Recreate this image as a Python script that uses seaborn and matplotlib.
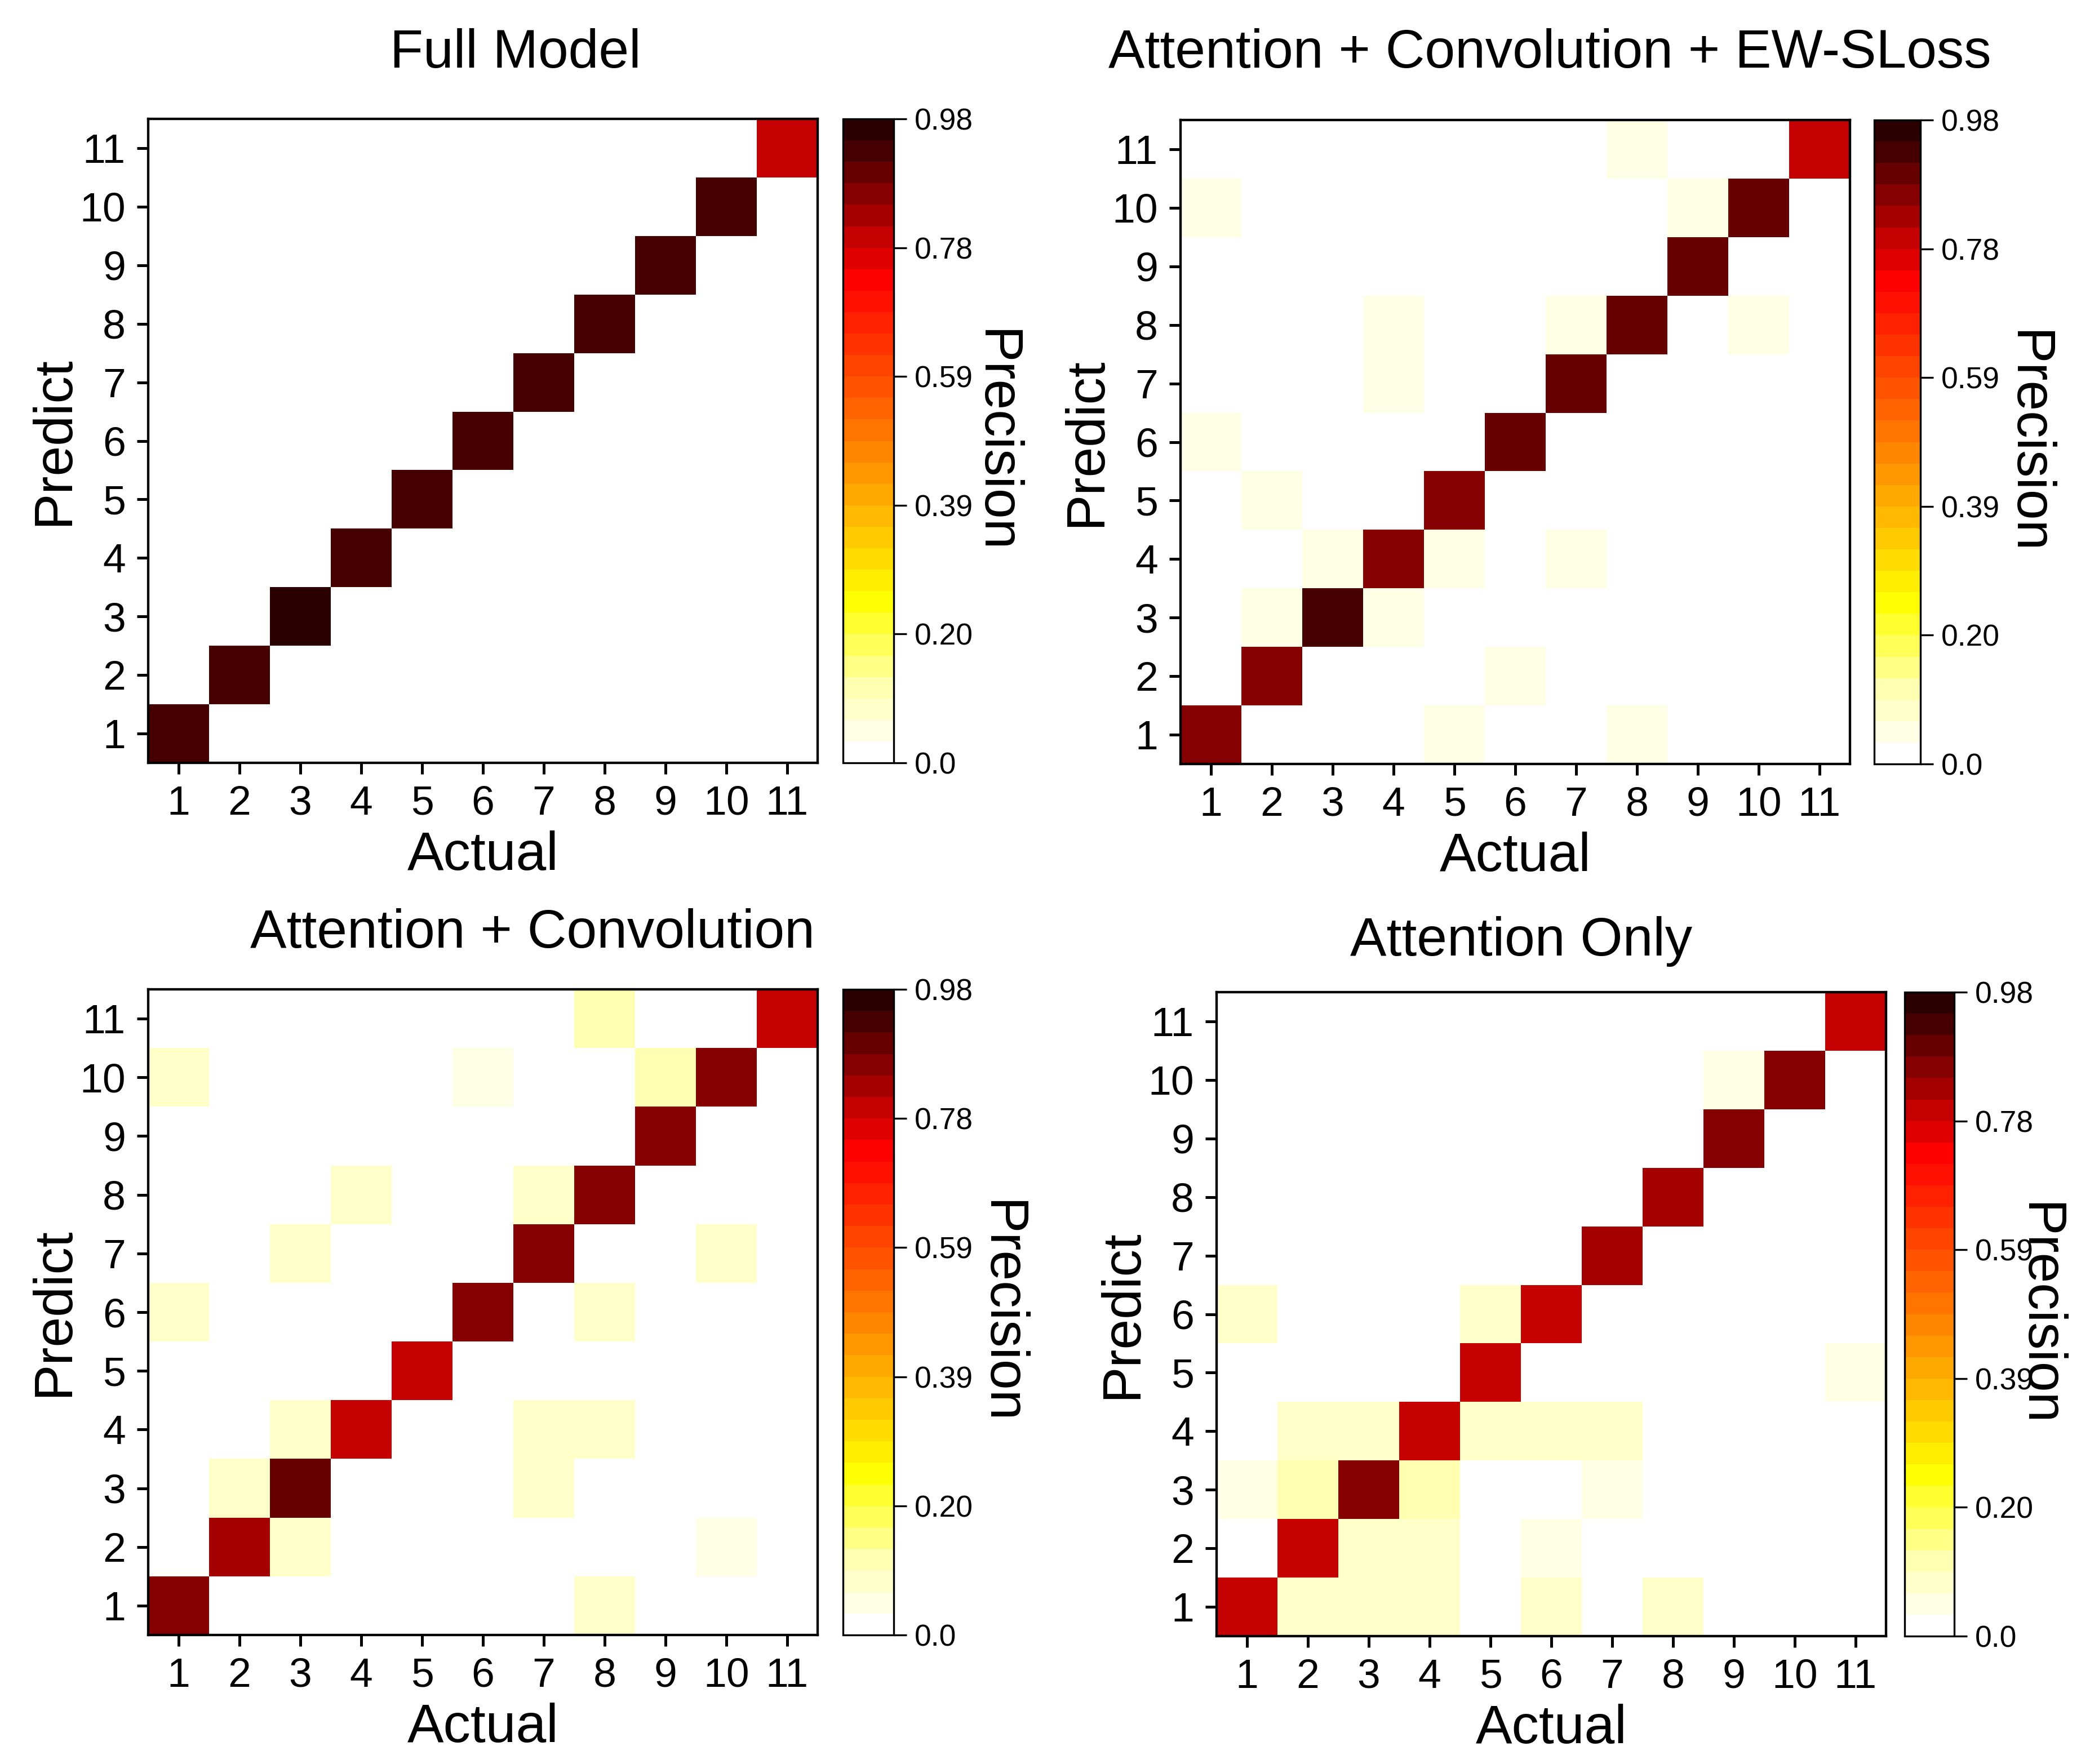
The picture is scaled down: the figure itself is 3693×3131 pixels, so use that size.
import numpy as np
import pandas as pd
import matplotlib
matplotlib.use("Agg")
import matplotlib.pyplot as plt
import seaborn as sns
from matplotlib.colors import LinearSegmentedColormap, ListedColormap

sns.set_style("ticks")
plt.rcParams['font.family'] = ['Liberation Sans', 'DejaVu Sans']
plt.rcParams['text.color'] = 'black'
plt.rcParams['axes.labelcolor'] = 'black'
plt.rcParams['xtick.color'] = 'black'
plt.rcParams['ytick.color'] = 'black'

classes = list(range(1, 12))
titles = ["Full Model", "Attention + Convolution + EW-SLoss",
          "Attention + Convolution", "Attention Only"]

# precision on the diagonal (class 1..11)
diag_full = [0.93, 0.93, 0.97, 0.93, 0.93, 0.93, 0.93, 0.93, 0.93, 0.93, 0.80]
diag_ew = [0.87, 0.87, 0.93, 0.87, 0.87, 0.90, 0.90, 0.90, 0.90, 0.90, 0.80]
diag_conv = [0.87, 0.83, 0.90, 0.80, 0.80, 0.87, 0.87, 0.87, 0.87, 0.87, 0.80]
diag_att = [0.80, 0.80, 0.87, 0.80, 0.80, 0.80, 0.83, 0.83, 0.87, 0.87, 0.80]

# off-diagonal cells as (actual, predict, value)
off_full = []
off_ew = [(8, 11, 0.05), (1, 10, 0.05), (9, 10, 0.05), (4, 8, 0.05), (7, 8, 0.05),
          (10, 8, 0.05), (4, 7, 0.05), (1, 6, 0.05), (2, 5, 0.05), (3, 4, 0.05),
          (5, 4, 0.05), (7, 4, 0.05), (2, 3, 0.05), (4, 3, 0.05), (6, 2, 0.05),
          (5, 1, 0.05), (8, 1, 0.05)]
off_conv = [(8, 11, 0.11), (1, 10, 0.08), (6, 10, 0.04), (9, 10, 0.11), (4, 8, 0.08),
            (7, 8, 0.08), (3, 7, 0.08), (10, 7, 0.08), (1, 6, 0.08), (8, 6, 0.08),
            (3, 4, 0.08), (7, 4, 0.08), (8, 4, 0.08), (2, 3, 0.08), (7, 3, 0.08),
            (3, 2, 0.08), (10, 2, 0.04), (8, 1, 0.08)]
off_att = [(9, 10, 0.05), (1, 6, 0.09), (5, 6, 0.09), (11, 5, 0.05), (2, 4, 0.07),
           (3, 4, 0.07), (5, 4, 0.07), (6, 4, 0.07), (7, 4, 0.07), (1, 3, 0.05),
           (2, 3, 0.11), (4, 3, 0.11), (7, 3, 0.05), (3, 2, 0.07), (4, 2, 0.07),
           (6, 2, 0.05), (2, 1, 0.07), (3, 1, 0.07), (4, 1, 0.07), (6, 1, 0.09),
           (8, 1, 0.09)]

cbar_ticks = [0.0, 0.196, 0.392, 0.588, 0.784, 0.98]
cbar_labels = ["0.0", "0.20", "0.39", "0.59", "0.78", "0.98"]


def build(diag, off):
    m = np.zeros((len(classes), len(classes)))
    for i, v in enumerate(diag):
        m[i, i] = v
    for a, p, v in off:
        m[p - 1, a - 1] = v
    # top row of the heatmap is class 11
    return pd.DataFrame(m[::-1], index=classes[::-1], columns=classes)


mats = [build(diag_full, off_full), build(diag_ew, off_ew),
        build(diag_conv, off_conv), build(diag_att, off_att)]

# white -> yellow -> orange -> red -> almost black, 30 steps
base = LinearSegmentedColormap.from_list("prec", [
    (0.0, "#ffffff"), (1 / 29, "#ffffe2"), (2 / 29, "#ffffc8"), (3 / 29, "#ffffb0"),
    (7 / 29, "#ffff00"), (12 / 29, "#ffa800"), (22 / 29, "#ff0000"),
    (24 / 29, "#c40000"), (1.0, "#2a0000")])
cmap = ListedColormap(base(np.linspace(0, 1, 30)))

W, H = 3693, 3131
fig = plt.figure(figsize=(W / 240, H / 240), dpi=240)

# axes and colorbar boxes in pixels: left, top, right, bottom
ax_px = [(263, 211, 1451, 1354), (2095, 213, 3283, 1356),
         (263, 1756, 1451, 2902), (2159, 1761, 3347, 2904)]
cb_px = [(1496, 1586), (3326, 3408), (1496, 1586), (3380, 3468)]
title_px = [(915, 95), (2750, 95), (945, 1657), (2700, 1671)]
cb_pad = [25, 28, 28, 16]

for k in range(4):
    l, t, r, b = ax_px[k]
    ax = fig.add_axes([l / W, 1 - b / H, (r - l) / W, (b - t) / H])
    cl, cr = cb_px[k]
    cax = fig.add_axes([cl / W, 1 - b / H, (cr - cl) / W, (b - t) / H])
    sns.heatmap(mats[k], ax=ax, cbar_ax=cax, cmap=cmap, vmin=0, vmax=0.98,
                cbar_kws={"ticks": cbar_ticks})
    ax.set_axisbelow(False)
    for s in ax.spines.values():
        s.set_visible(True)
        s.set_linewidth(1.3)
        s.set_color("black")
    # rebuild the tick objects so the marks come back
    ax.tick_params(axis="both", which="major", reset=True, length=6, width=1.5,
                   direction="out", bottom=True, top=False, left=True, right=False,
                   labelbottom=True, labelleft=True, labeltop=False, labelright=False,
                   labelsize=22, color="black", labelcolor="black", pad=6,
                   labelrotation=0)
    ax.set_xlabel("Actual", fontsize=29, labelpad=4)
    ax.set_ylabel("Predict", fontsize=29, labelpad=0)

    cbar = ax.collections[0].colorbar
    cbar.set_ticks(cbar_ticks)
    cbar.set_ticklabels(cbar_labels)
    cbar.outline.set_visible(True)
    cbar.outline.set_linewidth(1.0)
    cbar.outline.set_edgecolor("black")
    cax.tick_params(right=True, length=7, width=1.0, direction="out",
                    labelsize=16, color="black", pad=4)
    cbar.set_label("Precision", fontsize=29, rotation=270, labelpad=cb_pad[k])

    tx, ty = title_px[k]
    fig.text(tx / W, 1 - ty / H, titles[k], fontsize=29, ha="center", va="center")

fig.savefig("out.png", dpi=240, facecolor="white")
